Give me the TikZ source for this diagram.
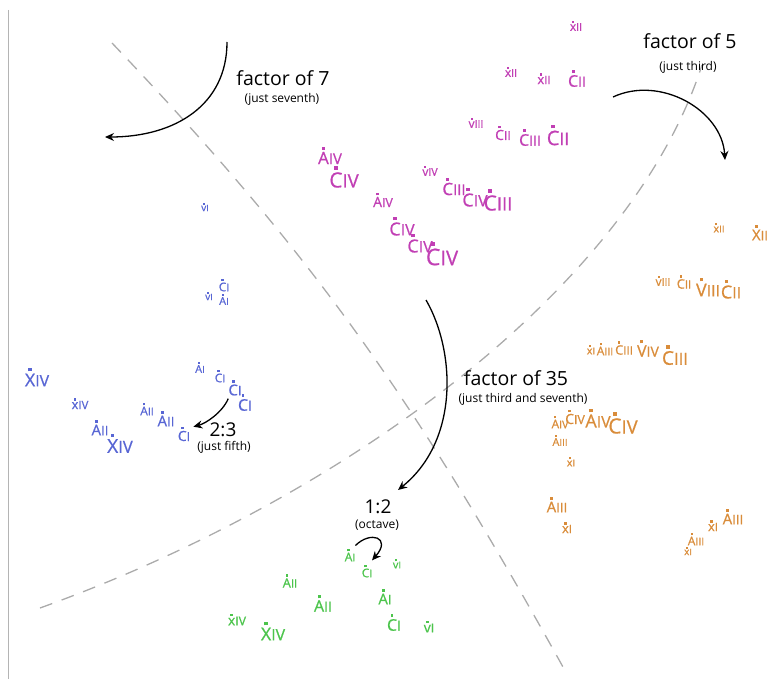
\documentclass[tikz,border=0pt]{standalone}
\usepackage{fontspec}
\usepackage{graphicx}
\setmainfont{Open Sans}
\newfontfamily\labfont{Open Sans}[FakeBold=0.7]
\usetikzlibrary{arrows.meta}
\definecolor{mg}{HTML}{C13FB4}
\definecolor{bl}{HTML}{5866D4}
\definecolor{org}{HTML}{D98C3A}
\definecolor{gr}{HTML}{4CC44C}
\definecolor{dgray}{HTML}{ABABAB}
\definecolor{lgray}{HTML}{B4B4B4}
\newcommand\pl[3]{%
 \labfont\fontsize{#1}{#1}\selectfont
 \setbox0=\hbox{#2}%
 \rlap{\hbox to \wd0{\hss\smash{\raisebox{\dimexpr\ht0+#1pt*12/100\relax}{\rule{\dimexpr#1pt*18/100\relax}{\dimexpr#1pt*18/100\relax}}}\hss}}%
 \box0\scalebox{0.88}{#3}}
\tikzset{
 lab/.style={inner sep=0pt},
 txt/.style={inner sep=0pt, text=black},
 arr/.style={draw=black, line width=1.3pt, -{Stealth[length=9pt,width=8pt]}},
 divider/.style={draw=dgray, line width=1.3pt, dash pattern=on 13pt off 10pt},
}
\begin{document}
\begin{tikzpicture}[x=1pt,y=-1pt]
\useasboundingbox (0,0) rectangle (777,679);
\draw[lgray, line width=1pt] (8,10) -- (8,679);
% dividers
\draw[divider] (112,43) .. controls (312,253) and (413,397) .. (563,667);
\draw[divider] (40,608) .. controls (340,500) and (630,290) .. (702,65);
% magenta
\foreach \x/\y/\s/\l/\n [count=\i] in {576/27/12/x/II, 511/73/12/x/II, 544/80/13/x/II, 577/81/16/C/II, 476/124/12/v/III, 503/135/14/C/II, 530/140/16/C/III, 558/138/20/C/II, 330/158/17/A/IV, 344/180/21/C/IV, 430/172/12/v/IV, 454/189/17/C/III, 475/200/18/C/IV, 498/203/21/C/III, 383/202/14/A/IV, 402/229/18/C/IV, 420/246/18/C/IV, 442/257/23/C/IV}
  \node[lab, text=mg] (m\i) at (\x,\y) {\pl{\s}{\l}{\n}};
% blue
\foreach \x/\y/\s/\l/\n [count=\i] in {205/208/10/v/I, 224/287/12/C/I, 224/301/11/A/I, 209/297/10/v/I, 37/380/18/X/IV, 80/405/13/x/IV, 100/430/15/A/II, 120/446/19/X/IV, 147/411/12/A/II, 166/421/15/A/II, 184/436/14/C/I, 200/369/11/A/I, 220/378/12/C/I, 235/390/15/C/I, 245/405/16/C/I}
  \node[lab, text=bl] (b\i) at (\x,\y) {\pl{\s}{\l}{\n}};
% orange
\foreach \x/\y/\s/\l/\n [count=\i] in {719/229/11/x/II, 760/235/15/X/II, 663/282/12/v/III, 684/284/13/C/II, 708/290/18/V/III, 731/292/18/C/II, 591/351/11/x/I, 605/351/12/A/III, 624/350/13/C/III, 648/351/16/V/IV, 675/358/19/C/III, 560/424/12/A/IV, 575/419/14/C/IV, 598/421/18/A/IV, 623/426/21/C/IV, 560/442/11/A/III, 571/463/11/x/I, 557/507/15/A/III, 567/529/13/x/I, 733/519/15/A/III, 713/527/13/x/I, 696/541/12/A/III, 688/552/10/x/I}
  \node[lab, text=org] (o\i) at (\x,\y) {\pl{\s}{\l}{\n}};
% green
\foreach \x/\y/\s/\l/\n [count=\i] in {350/557/12/A/I, 367/573/12/C/I, 397/565/11/v/I, 290/583/13/A/II, 323/606/16/A/II, 385/599/15/A/I, 394/625/16/C/I, 429/628/14/v/I, 237/621/14/x/IV, 273/634/18/X/IV}
  \node[lab, text=gr] (g\i) at (\x,\y) {\pl{\s}{\l}{\n}};
% texts
\node[txt, font=\fontsize{19.5}{20}\selectfont] (t7) at (283,78) {factor of 7};
\node[txt, font=\fontsize{12}{13}\selectfont] (t7s) at (282,99) {(just seventh)};
\node[txt, font=\fontsize{19.5}{20}\selectfont] (t5) at (690,41) {factor of 5};
\node[txt, font=\fontsize{12}{13}\selectfont] (t5s) at (688,67) {(just third)};
\node[txt, font=\fontsize{19.5}{20}\selectfont] (t35) at (516,378) {factor of 35};
\node[txt, font=\fontsize{12}{13}\selectfont] (t35s) at (523,399) {(just third and seventh)};
\node[txt, font=\fontsize{19}{20}\selectfont] (t23) at (223,430) {2:3};
\node[txt, font=\fontsize{12}{13}\selectfont] (t23s) at (224,447) {(just fifth)};
\node[txt, font=\fontsize{19}{20}\selectfont] (t12) at (378,507) {1:2};
\node[txt, font=\fontsize{12}{13}\selectfont] (t12s) at (377,525) {(octave)};
% arrows
\coordinate (f7s) at (227,42); \coordinate (f7e) at (105,137);
\coordinate (f5s) at (613,97); \coordinate (f5e) at (725,160);
\coordinate (f35s) at (426,300); \coordinate (f35e) at (398,490);
\draw[arr] (f7s) .. controls (227,105) and (175,137) .. (f7e);
\draw[arr] (f5s) .. controls (660,75) and (722,110) .. (f5e);
\draw[arr] (f35s) .. controls (455,350) and (460,440) .. (f35e);
\draw[arr] ([shift={(0,3)}]b14.south west) .. controls +(-6,14) and +(12,-3) .. ([shift={(3,-4)}]b11.north east);
\draw[arr] ([shift={(0,-7)}]g1.north east) .. controls +(15,-15) and +(20,-23) .. ([shift={(5,-8)}]g2.north);
\end{tikzpicture}
\end{document}
